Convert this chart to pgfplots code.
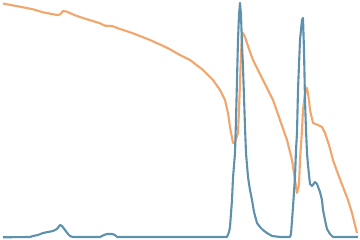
\documentclass[border=0pt]{standalone}
\usepackage{pgfplots}
\pgfplotsset{compat=1.18}
\definecolor{corange}{RGB}{240,166,108}
\definecolor{cblue}{RGB}{94,145,172}
\begin{document}
\begin{tikzpicture}
\useasboundingbox (0,0) rectangle (12cm,8cm);
\begin{axis}[
  width=12cm, height=8cm, scale only axis,
  xmin=0, xmax=360, ymin=0, ymax=240,
  hide axis, clip=false,
]
\addplot[corange, line width=2pt, line join=round] coordinates {
(3,236.5) (7,235.7) (20,233.3) (33,230.7) (43,227.7) (57,225) (60,225.5) (63,229) (67,228.3)
(72,226) (77,224) (87,220.7) (100,216.7) (105,214.3) (112,214) (118,211.7) (133,206.7)
(150,200) (167,192.3) (180,185) (190,180) (203,170) (213,160) (220,150) (225,140)
(228,127) (230,113) (233,97) (235,97) (237,104) (238,107) (239,130) (240,157) (241,185)
(242,205) (243,207) (245,203) (249,191) (253,180) (258,170) (263,160) (268,150) (273,140)
(279,123) (280,120) (287,100) (292,80) (295,60) (297,47) (299,55) (300,80) (302,110)
(303,130) (305,146) (307,152) (309,140) (310,130) (313,117) (318,115) (322,113) (325,107)
(329,95) (333,80) (338,66) (343,53) (348,40) (352,27) (355,15) (357,7)
};
\addplot[cblue, line width=2pt, line join=round] coordinates {
(3,2.7) (30,3) (33,4) (38,5) (43,7) (48,8) (53,9) (57,11) (60,15) (62,14) (65,10)
(68,6) (70,4) (73,3) (100,3) (104,5) (107,6) (112,6) (115,5) (117,3) (227,3)
(229,8) (230,13) (232,40) (233,62) (235,87) (236,120) (237,160) (238,200) (239,225)
(240,237) (241,225) (242,195) (243,173) (245,113) (246,87) (248,63) (250,50) (252,40)
(254,28) (257,17) (260,13) (263,10) (267,7) (272,4) (280,3) (290,3) (291,6) (293,33)
(295,63) (296,90) (297,107) (298,150) (299,175) (300,200) (301,210) (302,220) (303,222)
(304,190) (305,140) (306,110) (307,87) (308,75) (310,56) (312,54) (315,58) (317,56)
(320,48) (322,40) (323,30) (325,20) (327,11) (330,6) (333,3) (358,3)
};
\end{axis}
\end{tikzpicture}
\end{document}
